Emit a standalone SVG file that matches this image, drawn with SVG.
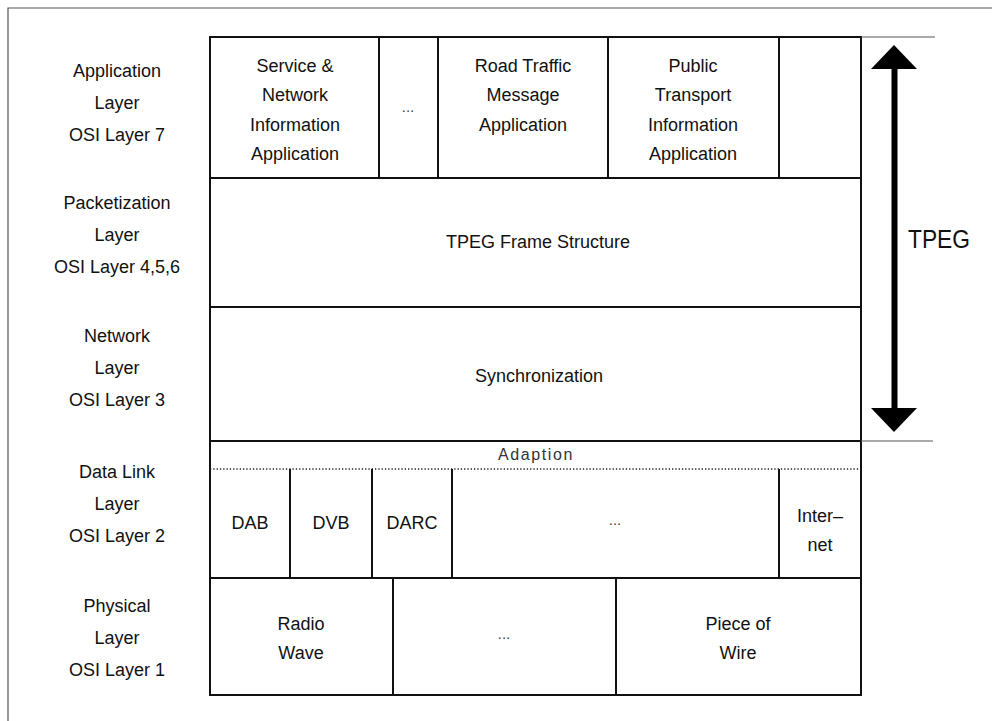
<svg xmlns="http://www.w3.org/2000/svg" width="992" height="721" viewBox="0 0 992 721">
<style>
text{font-family:"Liberation Sans",Arial,sans-serif;font-size:18px;fill:#111;text-anchor:middle}
.ln{stroke:#111;stroke-width:2;fill:none}
.thin{stroke:#555;stroke-width:1.2;fill:none}
.dot{stroke:#222;stroke-width:1.5;stroke-dasharray:1.3 2;fill:none}
.ad{font-size:16px;letter-spacing:1.6px;fill:#333}
.big{font-size:25px}
.el{font-size:15px;fill:#444}
</style>
<rect width="992" height="721" fill="#fff"/>
<path class="thin" d="M8,721 V8 H992"/>
<g id="labels">
<text x="117" y="77">Application</text><text x="117" y="109">Layer</text><text x="117" y="141">OSI Layer 7</text>
<text x="117" y="209">Packetization</text><text x="117" y="241">Layer</text><text x="117" y="273">OSI Layer 4,5,6</text>
<text x="117" y="342">Network</text><text x="117" y="374">Layer</text><text x="117" y="406">OSI Layer 3</text>
<text x="117" y="478">Data Link</text><text x="117" y="510">Layer</text><text x="117" y="542">OSI Layer 2</text>
<text x="117" y="612">Physical</text><text x="117" y="644">Layer</text><text x="117" y="676">OSI Layer 1</text>
</g>
<g id="stack">
<rect class="ln" x="210" y="37" width="651" height="658"/>
<path class="ln" d="M210,178 H861 M210,307 H861 M210,441 H861 M210,578 H861"/>
<path class="dot" d="M210,469 H861"/>
</g>
<g id="app-sni"><path class="ln" d="M379,37 V178"/><text x="295" y="72">Service &amp;</text><text x="295" y="101">Network</text><text x="295" y="131">Information</text><text x="295" y="160">Application</text></g>
<g id="app-dots"><path class="ln" d="M438,37 V178"/><text class="el" x="408" y="112">...</text></g>
<g id="app-rtm"><path class="ln" d="M608,37 V178"/><text x="523" y="72">Road Traffic</text><text x="523" y="101">Message</text><text x="523" y="131">Application</text></g>
<g id="app-pti"><path class="ln" d="M779,37 V178"/><text x="693" y="72">Public</text><text x="693" y="101">Transport</text><text x="693" y="131">Information</text><text x="693" y="160">Application</text></g>
<g id="frame"><text x="538" y="248">TPEG Frame Structure</text></g>
<g id="sync"><text x="539" y="382">Synchronization</text></g>
<g id="adaption"><text class="ad" x="536" y="460">Adaption</text></g>
<g id="dab"><path class="ln" d="M290,469 V578"/><text x="250" y="529">DAB</text></g>
<g id="dvb"><path class="ln" d="M372,469 V578"/><text x="331" y="529">DVB</text></g>
<g id="darc"><path class="ln" d="M452,469 V578"/><text x="412" y="529">DARC</text></g>
<g id="dl-dots"><path class="ln" d="M779,469 V578"/><text class="el" x="615" y="525">...</text></g>
<g id="internet"><text x="820" y="522">Inter–</text><text x="820" y="551">net</text></g>
<g id="radio"><path class="ln" d="M393,578 V695"/><text x="301" y="630">Radio</text><text x="301" y="659">Wave</text></g>
<g id="ph-dots"><path class="ln" d="M616,578 V695"/><text class="el" x="504" y="639">...</text></g>
<g id="wire"><text x="738" y="630">Piece of</text><text x="738" y="659">Wire</text></g>
<g id="connectors">
<path class="thin" d="M861,37 H935 M861,441 H933"/>
<path d="M894.5,66 V412" stroke="#000" stroke-width="6" fill="none"/>
<path d="M894,45 L917,69 H871 Z" fill="#000"/>
<path d="M894,432 L917,408 H871 Z" fill="#000"/>
</g>
<g id="tpeg"><text class="big" x="939" y="248" textLength="62" lengthAdjust="spacingAndGlyphs">TPEG</text></g>
</svg>
